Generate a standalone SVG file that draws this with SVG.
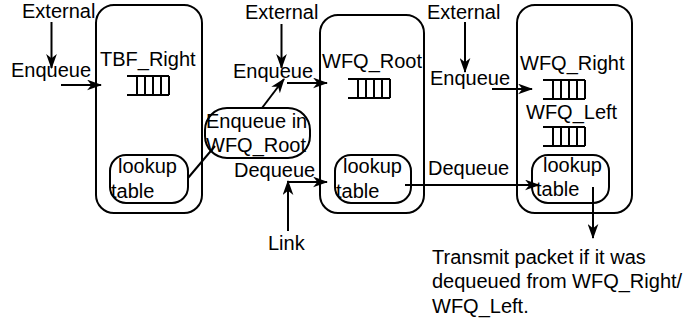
<svg xmlns="http://www.w3.org/2000/svg" width="700" height="320" viewBox="0 0 700 320">
<defs>
<style>
text{font-family:"Liberation Sans",Arial,sans-serif;font-size:20px;fill:#000}
.box{fill:none;stroke:#000;stroke-width:2}
.ln{fill:none;stroke:#000;stroke-width:2}
.arr{fill:none;stroke:#000;stroke-width:2;marker-end:url(#ah)}
.q{fill:none;stroke:#000;stroke-width:2}
</style>
<marker id="ah" viewBox="0 0 14 10" refX="13" refY="5" markerWidth="15" markerHeight="11" markerUnits="userSpaceOnUse" orient="auto">
<path d="M0,0 L14,5 L0,10 L4,5 z" fill="#000"/>
</marker>
<g id="queue">
<path class="q" d="M0,0 H42 M0,19 H42 M10,0 V19 M18,0 V19 M26,0 V19 M34,0 V19 M42,0 V19"/>
</g>
</defs>
<g id="tbf">
<rect class="box" x="96" y="5" width="106" height="208" rx="18"/>
<text x="100" y="66">TBF_Right</text>
<use href="#queue" x="127" y="76"/>
</g>
<g id="lookup1">
<rect class="box" x="110" y="155" width="78" height="48" rx="16"/>
<text x="118" y="173">lookup</text>
<text x="111" y="198">table</text>
</g>
<g id="enqinroot">
<rect class="box" x="205" y="108" width="105" height="50" rx="22"/>
<text x="206" y="128">Enqueue in</text>
<text x="206" y="152">WFQ_Root</text>
</g>
<g id="wfqroot">
<rect class="box" x="320" y="15" width="104" height="198" rx="18"/>
<text x="322" y="68">WFQ_Root</text>
<use href="#queue" x="348" y="79"/>
</g>
<g id="lookup2">
<rect class="box" x="335" y="155" width="76" height="48" rx="16"/>
<text x="343" y="173">lookup</text>
<text x="336" y="198">table</text>
</g>
<g id="wfqchildren">
<rect class="box" x="517" y="5" width="115" height="208" rx="18"/>
<text x="520" y="70">WFQ_Right</text>
<use href="#queue" x="543" y="80"/>
<text x="526" y="119">WFQ_Left</text>
<use href="#queue" x="543" y="127"/>
</g>
<g id="lookup3">
<rect class="box" x="532" y="155" width="77" height="48" rx="16"/>
<text x="543" y="172">lookup</text>
<text x="536" y="196">table</text>
</g>
<g id="labels">
<text x="22" y="18">External</text>
<text x="11" y="77">Enqueue</text>
<text x="245" y="19">External</text>
<text x="233" y="78">Enqueue</text>
<text x="234" y="177">Dequeue</text>
<text x="268" y="250">Link</text>
<text x="427" y="19">External</text>
<text x="430" y="85">Enqueue</text>
<text x="428" y="175">Dequeue</text>
<text x="432" y="264">Transmit packet if it was</text>
<text x="432" y="288">dequeued from WFQ_Right/</text>
<text x="432" y="313">WFQ_Left.</text>
</g>
<g id="connectors">
<path class="arr" d="M51.5,22 V68"/>
<path class="arr" d="M61,85 H101"/>
<path class="ln" d="M188,178 L215,146"/>
<path class="arr" d="M262,108 L284,79"/>
<path class="arr" d="M281.5,24 V68"/>
<path class="arr" d="M287,83 H327"/>
<path class="arr" d="M287,182 H327"/>
<path class="arr" d="M288,231 V181"/>
<path class="arr" d="M465,22 V72"/>
<path class="arr" d="M492,89 H532"/>
<path class="arr" d="M405,185 H539"/>
<path class="arr" d="M593,187 V238"/>
</g>
</svg>
